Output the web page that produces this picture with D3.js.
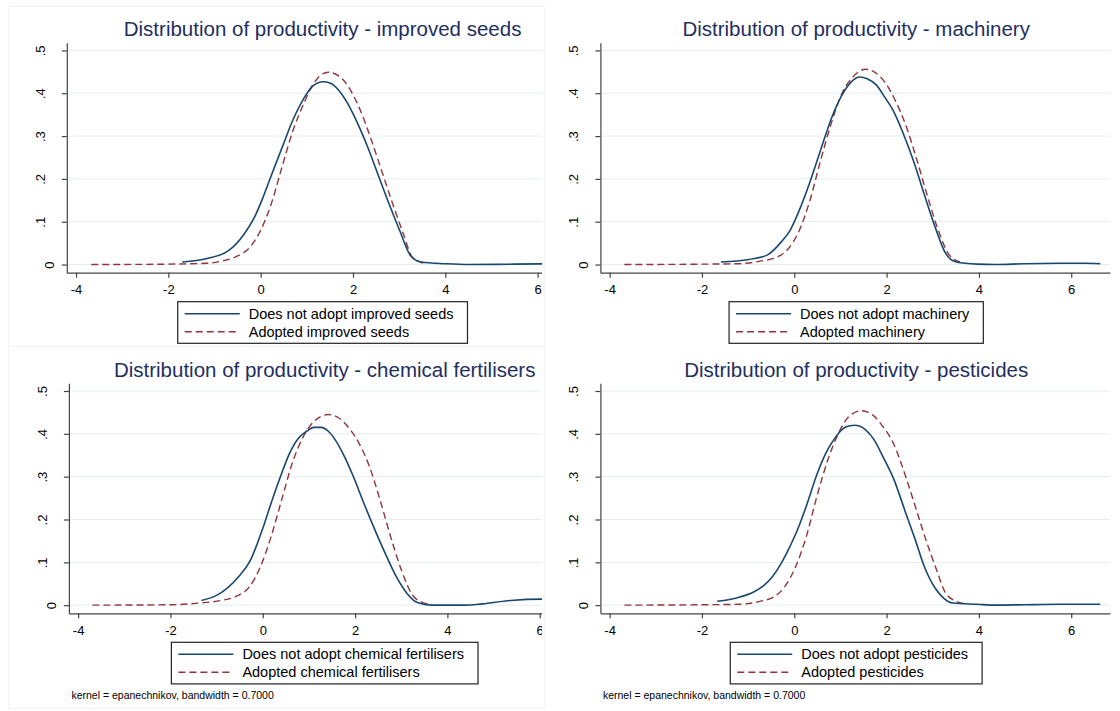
<!DOCTYPE html>
<html>
<head>
<meta charset="utf-8">
<script src="https://cdn.jsdelivr.net/npm/d3@7"></script>
<style>
  body { margin: 0; background: #fff; }
  svg { font-family: "Liberation Sans", Arial, sans-serif; }
</style>
</head>
<body>
<script>
// kernel density estimates, [x, density]
const seedsNo = [[-1.70,0.006],[-1.16,0.014],[-0.69,0.033],[-0.38,0.068],[-0.15,0.107],[0.04,0.154],[0.23,0.208],[0.46,0.272],[0.70,0.338],[0.93,0.387],[1.12,0.416],[1.35,0.427],[1.50,0.424],[1.70,0.406],[1.89,0.375],[2.09,0.332],[2.32,0.274],[2.55,0.208],[2.78,0.142],[3.01,0.080],[3.24,0.022],[3.48,0.006],[4.0,0.002],[4.5,0.000],[5.5,0.001],[6.6,0.002]]
const seedsYes = [[-3.67,0],[-2.0,0.001],[-1.16,0.003],[-0.85,0.008],[-0.54,0.018],[-0.23,0.041],[0.0,0.080],[0.23,0.142],[0.46,0.227],[0.70,0.313],[0.93,0.375],[1.16,0.425],[1.46,0.449],[1.70,0.440],[1.93,0.410],[2.16,0.360],[2.40,0.290],[2.63,0.216],[2.86,0.142],[3.09,0.072],[3.28,0.018],[3.45,0.006],[3.6,0.002]]

const machNo = [[-1.59,0.006],[-0.98,0.012],[-0.59,0.022],[-0.28,0.053],[-0.09,0.080],[0.11,0.127],[0.34,0.193],[0.57,0.267],[0.80,0.340],[1.03,0.395],[1.23,0.426],[1.42,0.438],[1.58,0.434],[1.77,0.420],[1.96,0.391],[2.16,0.356],[2.35,0.309],[2.58,0.243],[2.81,0.166],[3.05,0.088],[3.28,0.026],[3.51,0.006],[3.97,0.001],[4.36,0.0],[4.98,0.002],[5.75,0.003],[6.29,0.003],[6.63,0.002]]
const machYes = [[-3.68,0],[-1.98,0.001],[-1.21,0.002],[-0.74,0.008],[-0.36,0.018],[-0.13,0.037],[0.11,0.080],[0.34,0.150],[0.57,0.243],[0.80,0.329],[1.03,0.399],[1.27,0.438],[1.54,0.456],[1.73,0.450],[1.96,0.426],[2.19,0.383],[2.43,0.321],[2.66,0.243],[2.89,0.158],[3.12,0.080],[3.36,0.022],[3.59,0.006]]

const fertNo = [[-1.33,0.011],[-0.98,0.024],[-0.52,0.067],[-0.28,0.102],[-0.01,0.176],[0.18,0.238],[0.41,0.308],[0.57,0.352],[0.76,0.388],[0.95,0.406],[1.11,0.415],[1.26,0.415],[1.42,0.406],[1.57,0.386],[1.77,0.347],[1.96,0.301],[2.19,0.238],[2.42,0.178],[2.66,0.119],[2.89,0.067],[3.12,0.028],[3.35,0.006],[3.66,0.0],[4.36,0.0],[4.75,0.003],[5.37,0.011],[6.05,0.014],[6.6,0.014]]
const fertYes = [[-3.69,0],[-1.99,0.001],[-1.37,0.005],[-0.90,0.011],[-0.59,0.020],[-0.28,0.044],[-0.05,0.090],[0.18,0.160],[0.41,0.246],[0.64,0.332],[0.88,0.394],[1.11,0.429],[1.42,0.445],[1.65,0.437],[1.84,0.417],[2.08,0.379],[2.31,0.324],[2.54,0.246],[2.77,0.160],[3.00,0.083],[3.24,0.024],[3.47,0.006],[3.66,0.002]]

const pestNo = [[-1.67,0.009],[-1.21,0.018],[-0.86,0.032],[-0.67,0.045],[-0.47,0.067],[-0.28,0.098],[-0.13,0.129],[0.07,0.176],[0.26,0.231],[0.49,0.305],[0.69,0.356],[0.88,0.390],[1.11,0.416],[1.31,0.420],[1.54,0.410],[1.73,0.386],[1.92,0.347],[2.16,0.293],[2.39,0.223],[2.62,0.153],[2.81,0.092],[3.05,0.040],[3.24,0.016],[3.43,0.005],[3.97,0.002],[4.36,0.0],[4.98,0.001],[5.75,0.002],[6.63,0.002]]
const pestYes = [[-3.68,0],[-1.98,0.001],[-1.21,0.002],[-0.74,0.009],[-0.43,0.020],[-0.20,0.044],[0.03,0.090],[0.26,0.160],[0.49,0.254],[0.73,0.340],[0.96,0.402],[1.19,0.441],[1.46,0.454],[1.69,0.445],[1.92,0.417],[2.16,0.375],[2.39,0.308],[2.62,0.231],[2.85,0.153],[3.08,0.083],[3.28,0.028],[3.51,0.009],[3.66,0.004]]

const titles = ["Distribution of productivity - improved seeds", "Distribution of productivity - machinery",
                "Distribution of productivity - chemical fertilisers", "Distribution of productivity - pesticides"]
const inputs = ["improved seeds", "machinery", "chemical fertilisers", "pesticides"]
const xTicks = [-4, -2, 0, 2, 4, 6]
const yTicks = [0, 0.1, 0.2, 0.3, 0.4, 0.5]
const note = "kernel = epanechnikov, bandwidth = 0.7000"

const width = 1120, height = 711
const pw = 509.6, ph = 230
const navy = "#1a476f", maroon = "#90353b"

const svg = d3.select("body").append("svg")
  .attr("width", width)
  .attr("height", height)

const x = d3.scaleLinear().domain([-4.2, 6.84]).range([0, pw])
const y = d3.scaleLinear().domain([-0.019, 0.518]).range([ph, 0])
const line = d3.line().x(d => x(d[0])).y(d => y(d[1])).curve(d3.curveMonotoneX)

// where each panel sits; left ones are cropped on the right
const panels = [
  {x0: 66.8, y0: 42.7, clip: 542, no: seedsNo, yes: seedsYes, note: false},
  {x0: 600.4, y0: 42.7, clip: null, no: machNo, yes: machYes, note: false},
  {x0: 68.9, y0: 383.3, clip: 542, no: fertNo, yes: fertYes, note: true},
  {x0: 600.4, y0: 383.3, clip: null, no: pestNo, yes: pestYes, note: true}
]

// faint graph-region borders
svg.append("rect").attr("x", 8.5).attr("y", 6.5).attr("width", 536).attr("height", 340)
  .attr("fill", "none").attr("stroke", "#f1f3f4")
svg.append("rect").attr("x", 8.5).attr("y", 346.5).attr("width", 536).attr("height", 362)
  .attr("fill", "none").attr("stroke", "#f1f3f4")

panels.forEach((p, i) => {
  let root = svg.append("g")
  if (p.clip) {
    svg.append("clipPath").attr("id", "clip" + i)
      .append("rect").attr("x", 0).attr("y", 0).attr("width", p.clip).attr("height", height)
    root.attr("clip-path", `url(#clip${i})`)
  }
  const g = root.append("g").attr("transform", `translate(${p.x0},${p.y0})`)

  // grid
  g.selectAll(".grid").data(yTicks).enter().append("line")
    .attr("x1", 0).attr("x2", pw)
    .attr("y1", d => y(d)).attr("y2", d => y(d))
    .attr("stroke", "#e4eef0").attr("stroke-width", 1)

  // curves
  g.append("path").datum(p.yes).attr("d", line)
    .attr("fill", "none").attr("stroke", maroon).attr("stroke-width", 1.4)
    .attr("stroke-dasharray", "7,4")
  g.append("path").datum(p.no).attr("d", line)
    .attr("fill", "none").attr("stroke", navy).attr("stroke-width", 1.6)

  // axes
  const xa = g.append("g").attr("transform", `translate(0,${ph})`)
    .call(d3.axisBottom(x).tickValues(xTicks).tickSize(5).tickSizeOuter(0).tickPadding(7)
      .tickFormat(d => d < 0 ? "-" + Math.abs(d) : d))
  const ya = g.append("g")
    .call(d3.axisLeft(y).tickValues(yTicks).tickSize(5).tickSizeOuter(0)
      .tickFormat(d => d === 0 ? "0" : d3.format(".1f")(d).replace("0.", ".")))
  ;[xa, ya].forEach(a => {
    a.select(".domain").attr("stroke", "#444").attr("stroke-width", 1.2)
    a.selectAll(".tick line").attr("stroke", "#444").attr("stroke-width", 1.2)
    a.selectAll("text").attr("font-family", "Liberation Sans, Arial, sans-serif")
      .attr("font-size", 13).attr("fill", "#000")
  })
  ya.selectAll(".tick text")
    .attr("text-anchor", "middle")
    .attr("x", null).attr("dy", "0.35em")
    .attr("transform", d => `translate(${d === 0 ? -17.3 : -26.8},0) rotate(-90)`)

  // title
  root.append("text")
    .attr("x", p.x0 + pw / 2 + 1).attr("y", p.y0 - 6.3)
    .attr("text-anchor", "middle").attr("font-size", 20.5).attr("fill", "#1e2f5f")
    .text(titles[i])

  // legend
  const lg = root.append("g")
  const labels = ["Does not adopt " + inputs[i], "Adopted " + inputs[i]]
  const top = p.y0 + 259
  const txt = lg.selectAll("text").data(labels).enter().append("text")
    .attr("y", (d, k) => top + 12 + k * 18 + 5)
    .attr("font-size", 14.5).attr("fill", "#000")
    .text(d => d)
  const tw = d3.max(txt.nodes(), n => n.getComputedTextLength())
  const bw = 85 + tw
  const bx = p.x0 + pw / 2 + 1 - bw / 2
  lg.insert("rect", "text").attr("x", bx).attr("y", top).attr("width", bw).attr("height", 41.6)
    .attr("fill", "#fff").attr("stroke", "#222").attr("stroke-width", 1.2)
  txt.attr("x", bx + 71)
  lg.selectAll("line").data([0, 1]).enter().append("line")
    .attr("x1", bx + 7).attr("x2", bx + 62)
    .attr("y1", k => top + 12 + k * 18).attr("y2", k => top + 12 + k * 18)
    .attr("stroke", k => k ? maroon : navy).attr("stroke-width", k => k ? 1.4 : 1.6)
    .attr("stroke-dasharray", k => k ? "7,4" : null)

  if (p.note) {
    root.append("text").attr("x", p.x0 + 2.5).attr("y", p.y0 + 316)
      .attr("font-size", 10.5).attr("fill", "#000").text(note)
  }
})
</script>
</body>
</html>
